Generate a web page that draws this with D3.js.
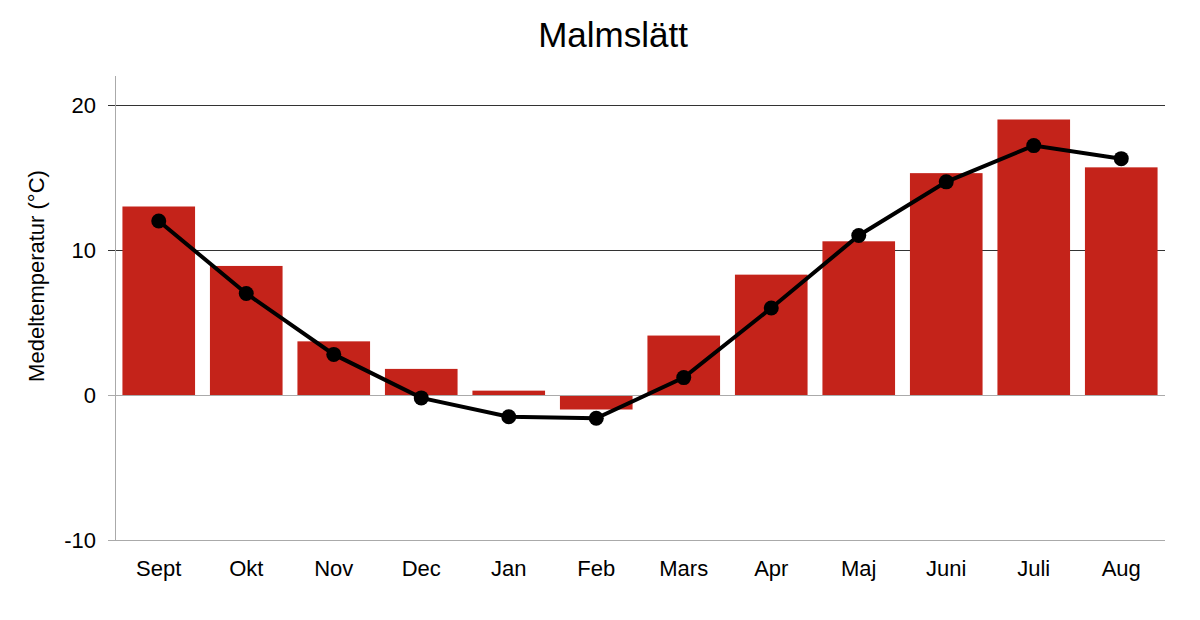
<!DOCTYPE html>
<html>
<head>
    <title>Malmslätt</title>
    <script src="https://d3js.org/d3.v7.min.js"></script>
    <style>
        body {
            margin: 0;
            padding: 0;
            background: white;
            font-family: "Liberation Sans", Arial, sans-serif;
        }
        .tick-label, .month-label {
            font-size: 22px;
            fill: black;
        }
        .axis-title {
            font-size: 22px;
            fill: black;
        }
        .chart-title {
            font-size: 35px;
            fill: black;
        }
    </style>
</head>
<body>
    <svg id="chart" width="1200" height="620"></svg>
    <script>
        const months = ['Sept', 'Okt', 'Nov', 'Dec', 'Jan', 'Feb', 'Mars', 'Apr', 'Maj', 'Juni', 'Juli', 'Aug'];
        // bar series (monthly mean temperature)
        const barValues = [13.0, 8.9, 3.7, 1.8, 0.3, -1.0, 4.1, 8.3, 10.6, 15.3, 19.0, 15.7];
        // line series (normal)
        const lineValues = [12.0, 7.0, 2.8, -0.2, -1.5, -1.6, 1.2, 6.0, 11.0, 14.7, 17.2, 16.3];
        const yTicks = [-10, 0, 10, 20];

        const svg = d3.select('#chart');
        const margin = { top: 76, right: 35, bottom: 80, left: 115 };
        const width = 1200;
        const height = 620;

        const x = d3.scaleBand()
            .domain(months)
            .range([margin.left, width - margin.right])
            .paddingInner(0.17)
            .paddingOuter(0.085);

        const y = d3.scaleLinear()
            .domain([-10, 22])
            .range([height - margin.bottom, margin.top]);

        // gridlines and ticks
        const grid = svg.append('g');
        yTicks.forEach(t => {
            const isGrid = t > 0;
            grid.append('line')
                .attr('x1', margin.left - 7)
                .attr('x2', width - margin.right)
                .attr('y1', y(t) + 0.5)
                .attr('y2', y(t) + 0.5)
                .attr('stroke', isGrid ? '#333' : '#aaa')
                .attr('stroke-width', 1);
            grid.append('text')
                .attr('class', 'tick-label')
                .attr('x', margin.left - 19)
                .attr('y', y(t))
                .attr('dy', '0.35em')
                .attr('text-anchor', 'end')
                .text(t);
        });

        // left axis line
        svg.append('line')
            .attr('x1', margin.left + 0.5)
            .attr('x2', margin.left + 0.5)
            .attr('y1', y(22))
            .attr('y2', y(-10))
            .attr('stroke', '#aaa')
            .attr('stroke-width', 1);

        // bars
        svg.append('g')
            .selectAll('rect')
            .data(barValues)
            .join('rect')
            .attr('x', (d, i) => x(months[i]))
            .attr('width', x.bandwidth())
            .attr('y', d => y(Math.max(0, d)))
            .attr('height', d => Math.abs(y(d) - y(0)))
            .attr('fill', '#c4231a');

        // zero line above bars
        svg.append('line')
            .attr('x1', margin.left)
            .attr('x2', width - margin.right)
            .attr('y1', y(0) + 0.5)
            .attr('y2', y(0) + 0.5)
            .attr('stroke', '#aaa')
            .attr('stroke-width', 1);

        // line series
        const line = d3.line()
            .x((d, i) => x(months[i]) + x.bandwidth() / 2)
            .y(d => y(d));

        svg.append('path')
            .datum(lineValues)
            .attr('fill', 'none')
            .attr('stroke', 'black')
            .attr('stroke-width', 4)
            .attr('d', line);

        svg.append('g')
            .selectAll('circle')
            .data(lineValues)
            .join('circle')
            .attr('cx', (d, i) => x(months[i]) + x.bandwidth() / 2)
            .attr('cy', d => y(d))
            .attr('r', 7.5)
            .attr('fill', 'black');

        // month labels
        svg.append('g')
            .selectAll('text')
            .data(months)
            .join('text')
            .attr('class', 'month-label')
            .attr('x', d => x(d) + x.bandwidth() / 2)
            .attr('y', 576)
            .attr('text-anchor', 'middle')
            .text(d => d);

        // y axis title
        svg.append('text')
            .attr('class', 'axis-title')
            .attr('transform', 'translate(44, 276) rotate(-90)')
            .attr('text-anchor', 'middle')
            .text('Medeltemperatur (°C)');

        // title
        svg.append('text')
            .attr('class', 'chart-title')
            .attr('x', 613)
            .attr('y', 47)
            .attr('text-anchor', 'middle')
            .text('Malmslätt');
    </script>
</body>
</html>
